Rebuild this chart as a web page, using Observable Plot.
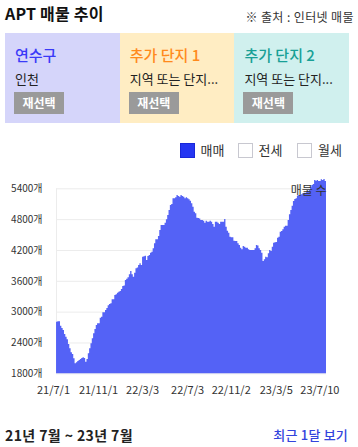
<!DOCTYPE html>
<html><head><meta charset="utf-8">
<script src="https://cdn.jsdelivr.net/npm/d3@7"></script>
<script src="https://cdn.jsdelivr.net/npm/@observablehq/plot@0.6"></script>
<style>
html,body{margin:0;padding:0;background:#fff;}
body{width:358px;height:447px;position:relative;overflow:hidden;font-family:"Noto Sans CJK KR","Noto Sans",sans-serif;color:#222;}
.abs{position:absolute;white-space:nowrap;}
#title{left:5px;top:3px;font-size:16px;font-weight:bold;color:#111;line-height:20px;letter-spacing:0.2px;}
#src{right:4px;top:9px;font-size:12px;color:#333;line-height:16px;letter-spacing:0.4px;}
.card{position:absolute;top:33px;height:90px;width:115px;box-sizing:border-box;padding-left:10px;}
.card .h{position:absolute;left:10px;top:12px;font-size:15px;line-height:20px;font-weight:500;}
.card .s{position:absolute;left:10px;top:36px;font-size:13px;line-height:20px;color:#222;width:100px;overflow:hidden;text-overflow:ellipsis;}
.card .b{position:absolute;left:9px;top:59px;width:50px;height:22px;background:#9a9a9a;color:#fff;font-size:12px;font-weight:bold;line-height:22px;text-align:center;}
.lg{position:absolute;top:142px;height:16px;font-size:13px;line-height:16px;color:#333;}
.box{position:absolute;top:0;width:15px;height:15px;box-sizing:border-box;border:1px solid #c8c8d0;background:#fff;}
#chart{position:absolute;left:0;top:165px;}
#range{left:5px;top:425px;font-size:14px;font-weight:600;color:#222;line-height:20px;letter-spacing:0.4px;}
#recent{right:10px;top:425px;font-size:13px;font-weight:500;color:#3344dd;line-height:20px;letter-spacing:0.2px;}
</style></head>
<body>
<div id="title" class="abs">APT 매물 추이</div>
<div id="src" class="abs">※ 출처 : 인터넷 매물</div>
<div id="cards"></div>
<div id="legend"></div>
<div id="chart"></div>
<div id="range" class="abs">21년 7월 ~ 23년 7월</div>
<div id="recent" class="abs">최근 1달 보기</div>
<script>
// ---- data ----
const cardTitles = ["연수구", "추가 단지 1", "추가 단지 2"];
const cardSubs = ["인천", "지역 또는 단지...", "지역 또는 단지..."];
const cardButton = "재선택";
const legendItems = ["매매", "전세", "월세"];
const legendChecked = [true, false, false];
const yTicks = [1800, 2400, 3000, 3600, 4200, 4800, 5400];
const xTickIdx = [-2.3, 31.7, 65, 99, 132, 166, 199];
const xTickLabels = ["21/7/1", "21/11/1", "22/3/3", "22/7/3", "22/11/2", "23/3/5", "23/7/10"];
const seriesLabel = "매물 수";
const counts = [
  2804, 2815, 2815, 2727, 2680, 2643, 2565, 2512, 2462, 2370,
  2286, 2208, 2175, 2092, 1994, 2014, 2040, 2059, 2078, 2100,
  2111, 2100, 2026, 2078, 2189, 2286, 2384, 2481, 2578, 2662,
  2740, 2773, 2773, 2882, 2901, 2987, 2987, 3032, 3070,
  3123, 3150, 3162, 3240, 3240, 3324, 3340, 3369, 3388, 3400,
  3440, 3499, 3510, 3616, 3640, 3668, 3726, 3791, 3726, 3681,
  3758, 3843, 3860, 3908, 3940, 3908, 4070, 4080, 4089, 4005,
  4082, 4100, 4147, 4167, 4232, 4330, 4408, 4408, 4472, 4589, 4686,
  4686, 4686, 4731, 4797, 4881, 4978, 5075, 5095, 5205, 5205,
  5225, 5270, 5250, 5237, 5270, 5250, 5237, 5205, 5225, 5205,
  5185, 5160, 5108, 5043, 4946, 4914, 4828, 4822, 4810, 4783,
  4783, 4770, 4731, 4770, 4750, 4750, 4770, 4750, 4705, 4653, 4750,
  4750, 4731, 4705, 4750, 4750, 4750, 4803, 4653, 4576, 4537,
  4459, 4446, 4446, 4381, 4375, 4375, 4330, 4298, 4245, 4213,
  4277, 4264, 4245, 4245, 4213, 4200, 4200, 4200, 4200, 4232,
  4298, 4285, 4232, 4200, 4147, 3985, 4018, 4070, 4057, 4135, 4200,
  4180, 4264, 4342, 4350, 4355, 4440, 4459, 4556, 4570, 4602,
  4653, 4673, 4673, 4783, 4894, 4978, 5062, 5153, 5192, 5205,
  5257, 5270, 5270, 5283, 5302, 5315, 5315, 5335, 5348, 5367,
  5420, 5465, 5484, 5562, 5549, 5562, 5543, 5543, 5575, 5562,
  5582, 5543
];

// ---- header cards ----
const cardBg = ["#d5d5fa", "#ffedc3", "#d0f0ee"];
const cardFg = ["#3a3af8", "#ff8a1c", "#18a096"];
const cardsEl = document.getElementById("cards");
cardTitles.forEach((t, i) => {
  const c = document.createElement("div");
  c.className = "card";
  c.style.left = (5 + i * 114.7) + "px";
  c.style.background = cardBg[i];
  c.innerHTML = `<div class="h" style="color:${cardFg[i]}">${t}</div><div class="s">${cardSubs[i]}</div><div class="b">${cardButton}</div>`;
  cardsEl.appendChild(c);
});

// ---- legend ----
const legendEl = document.getElementById("legend");
const boxX = [179.5, 237.5, 297];
legendItems.forEach((t, i) => {
  const b = document.createElement("div");
  b.className = "box";
  b.style.left = boxX[i] + "px";
  b.style.top = "142.5px";
  if (legendChecked[i]) { b.style.background = "#2536f2"; b.style.border = "1.5px solid #1a28d8"; }
  legendEl.appendChild(b);
  const l = document.createElement("div");
  l.className = "lg";
  l.style.left = (boxX[i] + 21) + "px";
  l.style.top = "142px";
  l.textContent = t;
  legendEl.appendChild(l);
});

// ---- chart ----
const N = counts.length;
const rows = counts.map((v, i) => ({i, v}));
rows.push({i: N, v: counts[N - 1]});

const chart = Plot.plot({
  width: 358,
  height: 235,
  marginLeft: 53,
  marginRight: 32,
  marginTop: 23.3,
  marginBottom: 26.7,
  style: {fontFamily: "'Noto Sans CJK KR','Noto Sans',sans-serif", fontSize: "11px", color: "#333", background: "transparent"},
  x: {domain: [-2.3, N]},
  y: {domain: [1800, 5400]},
  marks: [
    Plot.ruleY(yTicks, {y: d => d, x1: 0, x2: N, stroke: "#ececec", strokeWidth: 1}),
    Plot.ruleX([0], {y1: 1800, y2: 5400, stroke: "#ececec"}),
    Plot.areaY(rows, {x: "i", y1: 1800, y2: "v", curve: "step-after", fill: "#5462f6"}),
    Plot.axisY({ticks: yTicks, tickFormat: d => d + "개", tickSize: 0, tickPadding: 11, fontSize: 10, label: null, fill: "#333"}),
    Plot.axisX({ticks: xTickIdx, tickFormat: d => xTickLabels[xTickIdx.indexOf(d)], tickSize: 0, tickPadding: 12, fontSize: 11, label: null, fill: "#333"}),
    Plot.text([seriesLabel], {text: d => d, frameAnchor: "top-right", textAnchor: "end", lineAnchor: "middle", dy: 2, fontSize: 12, fill: "#333"})
  ]
});
document.getElementById("chart").appendChild(chart);
</script>
</body></html>
